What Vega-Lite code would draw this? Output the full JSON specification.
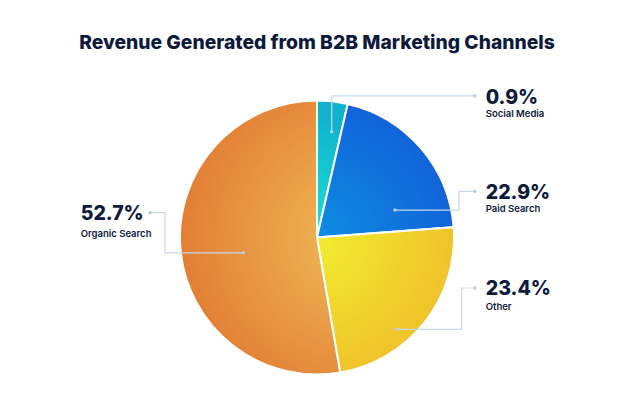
{
  "$schema": "https://vega.github.io/schema/vega-lite/v6.json",
  "width": 634,
  "height": 325,
  "autosize": {"type": "none"},
  "padding": {"top": 75, "left": 0, "right": 0, "bottom": 0},
  "background": "white",
  "config": {"view": {"stroke": null}},
  "title": {
    "text": "Revenue Generated from B2B Marketing Channels",
    "font": "Inter",
    "fontSize": 19.3,
    "fontWeight": 800,
    "color": "#0e1a3c",
    "anchor": "middle",
    "frame": "group",
    "baseline": "alphabetic",
    "offset": 7
  },
  "datasets": {
    "slices": [
      {"channel": "Social Media", "rank": 1, "share": 3.6, "label": "0.9%"},
      {"channel": "Paid Search", "rank": 2, "share": 20.2, "label": "22.9%"},
      {"channel": "Other", "rank": 3, "share": 23.5, "label": "23.4%"},
      {"channel": "Organic Search", "rank": 4, "share": 52.7, "label": "52.7%"}
    ],
    "callouts": [
      {"channel": "Social Media", "seq": 1, "u": 0.108, "v": 0.775, "end": true},
      {"channel": "Social Media", "seq": 2, "u": 0.108, "v": 1.037, "end": false},
      {"channel": "Social Media", "seq": 3, "u": 1.157, "v": 1.037, "end": true},
      {"channel": "Paid Search", "seq": 1, "u": 0.571, "v": 0.201, "end": true},
      {"channel": "Paid Search", "seq": 2, "u": 1.04, "v": 0.201, "end": false},
      {"channel": "Paid Search", "seq": 3, "u": 1.04, "v": 0.338, "end": false},
      {"channel": "Paid Search", "seq": 4, "u": 1.157, "v": 0.338, "end": true},
      {"channel": "Other", "seq": 1, "u": 0.579, "v": -0.673, "end": true},
      {"channel": "Other", "seq": 2, "u": 1.06, "v": -0.673, "end": false},
      {"channel": "Other", "seq": 3, "u": 1.06, "v": -0.37, "end": false},
      {"channel": "Other", "seq": 4, "u": 1.157, "v": -0.37, "end": true},
      {"channel": "Organic Search", "seq": 1, "u": -1.223, "v": 0.182, "end": true},
      {"channel": "Organic Search", "seq": 2, "u": -1.114, "v": 0.182, "end": false},
      {"channel": "Organic Search", "seq": 3, "u": -1.114, "v": -0.112, "end": false},
      {"channel": "Organic Search", "seq": 4, "u": -0.54, "v": -0.112, "end": true}
    ],
    "labels": [
      {"channel": "Social Media", "label": "0.9%", "u": 1.236, "v": 0.976, "nv": 0.882},
      {"channel": "Paid Search", "label": "22.9%", "u": 1.236, "v": 0.282, "nv": 0.186},
      {"channel": "Other", "label": "23.4%", "u": 1.236, "v": -0.421, "nv": -0.532},
      {"channel": "Organic Search", "label": "52.7%", "u": -1.731, "v": 0.128, "nv": 0.005}
    ]
  },
  "layer": [
    {
      "data": {"name": "slices"},
      "mark": {"type": "arc", "outerRadius": 137, "stroke": "white", "strokeWidth": 2},
      "encoding": {
        "theta": {"field": "share", "type": "quantitative", "stack": true},
        "order": {"field": "rank", "type": "quantitative"},
        "fill": {
          "condition": [
            {"test": "datum.channel === 'Social Media'", "value": {"gradient": "radial", "x1": 0, "y1": 1, "r1": 0, "x2": 0, "y2": 1, "r2": 1, "stops": [{"offset": 0, "color": "#22ecdc"}, {"offset": 1, "color": "#0fb3cc"}]}},
            {"test": "datum.channel === 'Paid Search'", "value": {"gradient": "radial", "x1": 0, "y1": 1, "r1": 0, "x2": 0, "y2": 1, "r2": 1.1, "stops": [{"offset": 0, "color": "#0e8ee2"}, {"offset": 1, "color": "#1160d8"}]}},
            {"test": "datum.channel === 'Other'", "value": {"gradient": "radial", "x1": 0, "y1": 0.07, "r1": 0, "x2": 0, "y2": 0.07, "r2": 1.1, "stops": [{"offset": 0, "color": "#f2ee30"}, {"offset": 1, "color": "#efbd2a"}]}}
          ],
          "value": {"gradient": "radial", "x1": 0.857, "y1": 0.5, "r1": 0, "x2": 0.857, "y2": 0.5, "r2": 0.75, "stops": [{"offset": 0, "color": "#f0bc58"}, {"offset": 1, "color": "#e07530"}]}
        }
      }
    },
    {
      "data": {"name": "callouts"},
      "mark": {"type": "line", "color": "#c9d8ea", "strokeWidth": 1.2, "interpolate": "linear"},
      "encoding": {
        "x": {"field": "u", "type": "quantitative", "scale": {"domain": [-2.3223, 2.3223], "nice": false, "zero": false}, "axis": null},
        "y": {"field": "v", "type": "quantitative", "scale": {"domain": [-1.1905, 1.1905], "nice": false, "zero": false}, "axis": null},
        "detail": {"field": "channel"},
        "order": {"field": "seq", "type": "quantitative"}
      }
    },
    {
      "data": {"name": "callouts"},
      "transform": [{"filter": "datum.end"}],
      "mark": {"type": "point", "filled": true, "size": 12, "color": "#b9cce2", "opacity": 1},
      "encoding": {
        "x": {"field": "u", "type": "quantitative", "scale": {"domain": [-2.3223, 2.3223], "nice": false, "zero": false}, "axis": null},
        "y": {"field": "v", "type": "quantitative", "scale": {"domain": [-1.1905, 1.1905], "nice": false, "zero": false}, "axis": null}
      }
    },
    {
      "data": {"name": "labels"},
      "mark": {"type": "text", "font": "Inter", "fontSize": 19.5, "fontWeight": 800, "color": "#0e1a3c", "align": "left", "baseline": "alphabetic"},
      "encoding": {
        "x": {"field": "u", "type": "quantitative", "scale": {"domain": [-2.3223, 2.3223], "nice": false, "zero": false}, "axis": null},
        "y": {"field": "v", "type": "quantitative", "scale": {"domain": [-1.1905, 1.1905], "nice": false, "zero": false}, "axis": null},
        "text": {"field": "label"}
      }
    },
    {
      "data": {"name": "labels"},
      "mark": {"type": "text", "font": "Inter", "fontSize": 9.5, "fontWeight": 600, "color": "#0e1a3c", "align": "left", "baseline": "alphabetic"},
      "encoding": {
        "x": {"field": "u", "type": "quantitative", "scale": {"domain": [-2.3223, 2.3223], "nice": false, "zero": false}, "axis": null},
        "y": {"field": "nv", "type": "quantitative", "scale": {"domain": [-1.1905, 1.1905], "nice": false, "zero": false}, "axis": null},
        "text": {"field": "channel"}
      }
    }
  ]
}
